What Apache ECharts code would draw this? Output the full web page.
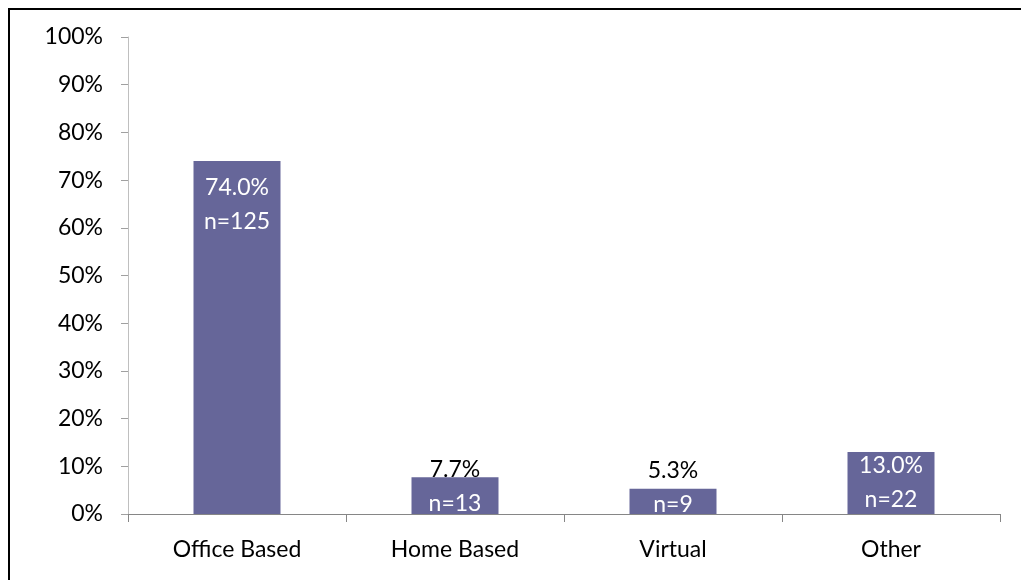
<!DOCTYPE html>
<html>
<head>
<meta charset="utf-8">
<script src="https://cdn.jsdelivr.net/npm/echarts@6/dist/echarts.min.js"></script>
<style>
  html, body { margin: 0; padding: 0; background: #fff; }
  #chart { width: 1021px; height: 580px; }
</style>
</head>
<body>
<div id="chart"></div>
<script>
// Work setting of respondents: share (%) and count per category
const categories = ['Office Based', 'Home Based', 'Virtual', 'Other'];
const shares = [74.0, 7.7, 5.3, 13.0];
const counts = [125, 13, 9, 22];
const yTicks = [0, 10, 20, 30, 40, 50, 60, 70, 80, 90, 100];

const FONT = 'Lato, "Open Sans", sans-serif';
const FS = 23;
const BAR = '#666699';

// Label placement per bar: tall bars keep both lines inside,
// short bars put the percentage just above the bar in black.
const labelLayout = [
  { position: 'insideTop', distance: 10, outsidePct: false },
  { position: 'inside', offset: [0, -9], outsidePct: true },
  { position: 'inside', offset: [0, -14], outsidePct: true },
  { position: 'inside', offset: [0, 0], outsidePct: false }
];

const data = shares.map((v, i) => {
  const l = labelLayout[i];
  return {
    value: v,
    label: {
      position: l.position,
      distance: l.distance,
      offset: l.offset || [0, 0],
      formatter: (l.outsidePct ? '{pd|' : '{pw|') + v.toFixed(1) + '%}\n{n|n=' + counts[i] + '}'
    }
  };
});

const chart = echarts.init(document.getElementById('chart'), null, { renderer: 'canvas' });
chart.setOption({
  animation: false,
  backgroundColor: '#fff',
  grid: { left: 128, right: 21, top: 37, bottom: 66, containLabel: false },
  graphic: [
    { type: 'line', shape: { x1: 9, y1: 9, x2: 9, y2: 580 }, style: { stroke: '#000', lineWidth: 2 } },
    { type: 'line', shape: { x1: 8, y1: 9, x2: 1021, y2: 9 }, style: { stroke: '#000', lineWidth: 2 } }
  ],
  xAxis: {
    type: 'category',
    data: categories,
    axisLine: { lineStyle: { color: '#868686', width: 1 } },
    axisTick: { show: true, length: 8, alignWithLabel: false, lineStyle: { color: '#868686' } },
    axisLabel: { color: '#000', fontFamily: FONT, fontSize: FS, margin: 24 }
  },
  yAxis: {
    type: 'value',
    min: 0,
    max: 100,
    interval: 10,
    axisLine: { show: true, lineStyle: { color: '#bfbfbf', width: 1 } },
    axisTick: { show: true, length: 7, lineStyle: { color: '#a0a0a0' } },
    splitLine: { show: false },
    axisLabel: {
      color: '#000', fontFamily: FONT, fontSize: FS, margin: 25,
      formatter: v => (yTicks.includes(v) ? v + '%' : '')
    }
  },
  series: [{
    type: 'bar',
    data: data,
    barWidth: 87,
    itemStyle: { color: BAR },
    label: {
      show: true,
      fontFamily: FONT,
      align: 'center',
      rich: {
        pw: { color: '#fff', fontSize: FS, fontFamily: FONT, lineHeight: 34, align: 'center' },
        pd: { color: '#000', fontSize: FS, fontFamily: FONT, lineHeight: 34, align: 'center' },
        n: { color: '#fff', fontSize: FS, fontFamily: FONT, lineHeight: 34, align: 'center' }
      }
    }
  }]
});
</script>
</body>
</html>
